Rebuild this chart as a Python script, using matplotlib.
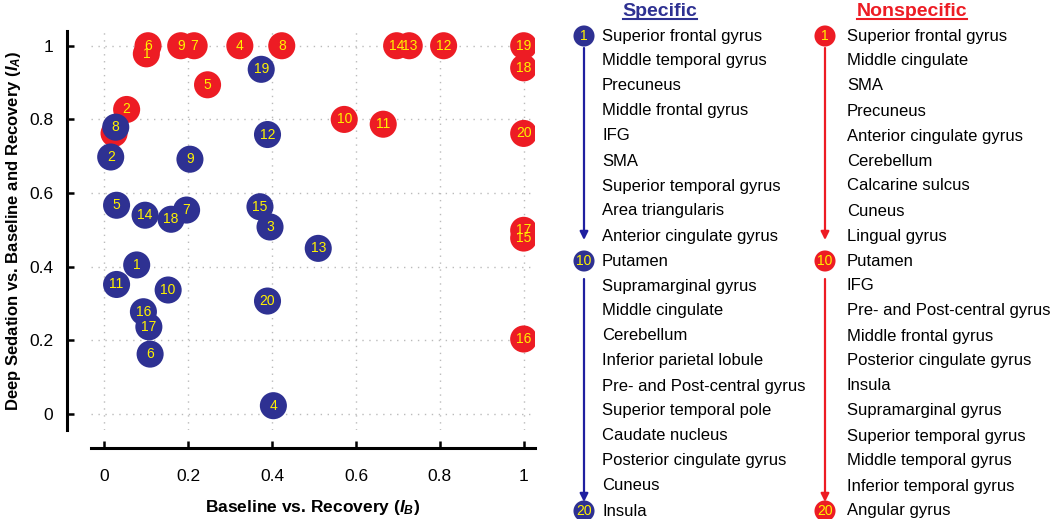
import matplotlib
matplotlib.use("Agg")
import matplotlib.pyplot as plt

plt.rcParams['font.family'] = ['Liberation Sans', 'DejaVu Sans']
plt.rcParams['mathtext.fontset'] = 'custom'
plt.rcParams['mathtext.it'] = 'Liberation Sans:italic:bold'
plt.rcParams['mathtext.rm'] = 'Liberation Sans:bold'

# specific regions (blue), index 1..20
spec_x = [0.077, 0.015, 0.395, 0.403, 0.029, 0.109, 0.196, 0.027, 0.204, 0.152,
          0.029, 0.389, 0.510, 0.097, 0.371, 0.093, 0.106, 0.159, 0.374, 0.389]
spec_y = [0.405, 0.698, 0.508, 0.023, 0.567, 0.163, 0.554, 0.779, 0.692, 0.337,
          0.352, 0.759, 0.450, 0.540, 0.563, 0.278, 0.237, 0.529, 0.936, 0.307]

# nonspecific regions (red)
nons_x = [0.100, 0.053, 0.023, 0.323, 0.246, 0.104, 0.214, 0.423, 0.182, 0.572,
          0.665, 0.809, 0.727, 0.697, 1.0, 1.0, 1.0, 1.0, 1.0, 1.0]
nons_y = [0.978, 0.827, 0.762, 1.0, 0.894, 1.0, 1.0, 1.0, 1.0, 0.800,
          0.787, 1.0, 1.0, 1.0, 0.478, 0.204, 0.499, 0.940, 1.0, 0.762]

spec_names = ["Superior frontal gyrus", "Middle temporal gyrus", "Precuneus",
              "Middle frontal gyrus", "IFG", "SMA", "Superior temporal gyrus",
              "Area triangularis", "Anterior cingulate gyrus", "Putamen",
              "Supramarginal gyrus", "Middle cingulate", "Cerebellum",
              "Inferior parietal lobule", "Pre- and Post-central gyrus",
              "Superior temporal pole", "Caudate nucleus",
              "Posterior cingulate gyrus", "Cuneus", "Insula"]
nons_names = ["Superior frontal gyrus", "Middle cingulate", "SMA", "Precuneus",
              "Anterior cingulate gyrus", "Cerebellum", "Calcarine sulcus",
              "Cuneus", "Lingual gyrus", "Putamen", "IFG",
              "Pre- and Post-central gyrus", "Middle frontal gyrus",
              "Posterior cingulate gyrus", "Insula", "Supramarginal gyrus",
              "Superior temporal gyrus", "Middle temporal gyrus",
              "Inferior temporal gyrus", "Angular gyrus"]

ticks = [0, 0.2, 0.4, 0.6, 0.8, 1]
tick_labels = ["0", "0.2", "0.4", "0.6", "0.8", "1"]

blue = '#2E3192'
red = '#ED1C24'
yellow = '#FFF200'
arrow_blue = '#1F1FA0'

W, H = 1050, 519
fig = plt.figure(figsize=(W / 100, H / 100), dpi=100)
ax = fig.add_axes([91 / W, 1 - 430 / H, 444 / W, 399 / H])

ax.set_xlim(-0.032, 1.027)
ax.set_ylim(-0.043, 1.04)

# red first, blue on top
for i, (x, y) in enumerate(zip(nons_x, nons_y)):
    ax.scatter(x, y, s=380, color=red, edgecolors='none', zorder=3)
    ax.text(x, y, str(i + 1), color=yellow, fontsize=10, ha='center',
            va='center', zorder=4)
for i, (x, y) in enumerate(zip(spec_x, spec_y)):
    ax.scatter(x, y, s=380, color=blue, edgecolors='none', zorder=5)
    ax.text(x, y, str(i + 1), color=yellow, fontsize=10, ha='center',
            va='center', zorder=6)

ax.set_xticks(ticks)
ax.set_xticklabels(tick_labels)
ax.set_yticks(ticks)
ax.set_yticklabels(tick_labels)
ax.grid(True, linestyle=(0, (1, 4)), color='#bbbbbb', linewidth=1)
ax.set_axisbelow(True)

for s in ['top', 'right']:
    ax.spines[s].set_visible(False)
ax.spines['left'].set_position(('outward', 17))
ax.spines['bottom'].set_position(('outward', 13))
ax.spines['left'].set_linewidth(2.2)
ax.spines['bottom'].set_linewidth(2.2)
ax.tick_params(direction='in', length=5, width=1.8, labelsize=12.5)
ax.tick_params(axis='x', pad=15)
ax.tick_params(axis='y', pad=10)

ax.set_xlabel(r"Baseline vs. Recovery ($I_B$)", fontsize=12.5, fontweight='bold')
ax.xaxis.set_label_coords(0.5, -(498 - 430) / 399)
ax.set_ylabel(r"Deep Sedation vs. Baseline and Recovery ($I_A$)", fontsize=12,
              fontweight='bold')
ax.yaxis.set_label_coords(-(91 - 23) / 444, 0.5)

# legend panel drawn in pixel coordinates
lg = fig.add_axes([0, 0, 1, 1])
lg.set_xlim(0, W)
lg.set_ylim(H, 0)
lg.axis('off')

row0, step = 36, 25


def column(names, color, cx, tx, title, title_x):
    for i, name in enumerate(names):
        y = row0 + i * step
        lg.text(tx, y, name, fontsize=12, ha='left', va='center', color='black')
        if i + 1 in (1, 10, 20):
            lg.scatter(cx, y, s=230, color=color, edgecolors='none', zorder=3)
            lg.text(cx, y, str(i + 1), color=yellow, fontsize=10, ha='center',
                    va='center', zorder=4)
    t = lg.text(title_x, 11, title, fontsize=14, fontweight='bold', color=color,
                ha='center', va='center')
    # arrows between the numbered circles
    for y0, y1 in [(row0 + 12, row0 + 8 * step + 4),
                   (row0 + 9 * step + 18, row0 + 18 * step + 16)]:
        lg.annotate('', xy=(cx, y1), xytext=(cx, y0),
                    arrowprops=dict(arrowstyle='-|>', color=color if color == red else arrow_blue,
                                    lw=1.6, mutation_scale=12, shrinkA=0, shrinkB=0))
    return t


t1 = column(spec_names, blue, 584, 602, "Specific", 660)
t2 = column(nons_names, red, 825, 847, "Nonspecific", 912)

# underline the titles
fig.canvas.draw()
r = fig.canvas.get_renderer()
inv = lg.transData.inverted()
for t, c in [(t1, blue), (t2, red)]:
    bb = t.get_window_extent(renderer=r)
    (x0, y0), (x1, y1) = inv.transform([(bb.x0, bb.y0), (bb.x1, bb.y1)])
    lg.plot([x0, x1], [y0 - 1, y0 - 1], color=c, lw=1.5)

fig.savefig("out.png", dpi=100)
